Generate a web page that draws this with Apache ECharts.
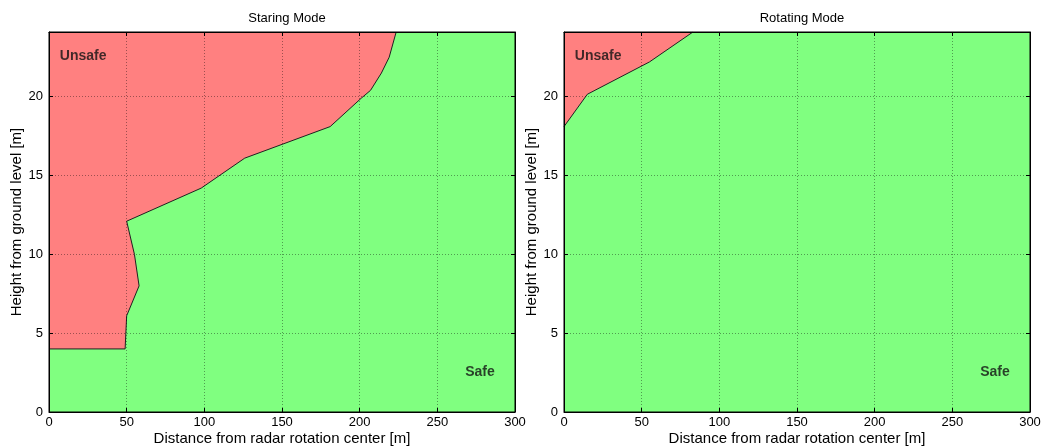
<!DOCTYPE html>
<html>
<head>
<meta charset="utf-8">
<script src="https://cdn.jsdelivr.net/npm/echarts@6/dist/echarts.min.js"></script>
<style>html,body{margin:0;padding:0;background:#fff}#c{width:1041px;height:446px}</style>
</head>
<body>
<div id="c"></div>
<script>
// ---- data ----
const titles = ['Staring Mode', 'Rotating Mode'];
const xAxisName = 'Distance from radar rotation center [m]';
const yAxisName = 'Height from ground level [m]';
const xMin = 0, xMax = 300, xStep = 50;
const yMin = 0, yMax = 24.1, yStep = 5;
// boundary between unsafe (upper-left) and safe regions
const staringX = [0, 49, 50, 58, 55, 50, 98, 126, 181, 201, 207, 214, 219, 223.5];
const staringY = [4, 4, 6.1, 8, 10, 12.1, 14.2, 16.1, 18.1, 19.9, 20.4, 21.5, 22.5, 24.1];
const rotatingX = [0, 15, 55, 83];
const rotatingY = [18.1, 20.15, 22.2, 24.1];
const regionNames = ['Unsafe', 'Safe'];
const unsafeLabelAt = [7, 22.6];
const safeLabelAt = [287, 2.5];

// ---- chart ----
const RED = '#FF8080', GREEN = '#80FF80';
const FONT = 'Liberation Sans, Arial, sans-serif';
const chart = echarts.init(document.getElementById('c'), null, {renderer: 'canvas'});

const grids = [
  {left: 49, top: 32, width: 466, height: 380},
  {left: 564, top: 32, width: 466, height: 380}
];
const boundaries = [
  staringX.map((x, i) => [x, staringY[i]]),
  rotatingX.map((x, i) => [x, rotatingY[i]])
];

const xAxes = [], yAxes = [], series = [], titleOpts = [];
grids.forEach((g, gi) => {
  const gridLine = {show: true, lineStyle: {color: 'rgba(0,0,0,0.38)', type: [1, 2], width: 1}};
  xAxes.push({
    gridIndex: gi, type: 'value', min: xMin, max: xMax, interval: xStep, position: 'bottom', z: 5,
    name: xAxisName, nameLocation: 'middle', nameGap: 19, nameMoveOverlap: false,
    nameTextStyle: {fontFamily: FONT, fontSize: 15, color: '#000'},
    axisLine: {show: true, onZero: false, lineStyle: {color: '#000', width: 1}},
    axisTick: {show: true, inside: true, length: 4, lineStyle: {color: '#000'}},
    axisLabel: {fontFamily: FONT, fontSize: 13, color: '#000', margin: 4},
    splitLine: gridLine
  });
  xAxes.push({
    gridIndex: gi, type: 'value', min: xMin, max: xMax, interval: xStep, position: 'top', z: 5,
    axisLine: {show: true, onZero: false, lineStyle: {color: '#000', width: 1}},
    axisTick: {show: true, inside: true, length: 4, lineStyle: {color: '#000'}},
    axisLabel: {show: false}, splitLine: {show: false}
  });
  yAxes.push({
    gridIndex: gi, type: 'value', min: yMin, max: yMax, interval: yStep, position: 'left', z: 5,
    name: yAxisName, nameLocation: 'middle', nameGap: 25, nameRotate: 90, nameMoveOverlap: false,
    nameTextStyle: {fontFamily: FONT, fontSize: 15, color: '#000'},
    axisLine: {show: true, onZero: false, lineStyle: {color: '#000', width: 1}},
    axisTick: {show: true, inside: true, length: 4, lineStyle: {color: '#000'}},
    axisLabel: {fontFamily: FONT, fontSize: 13, color: '#000', margin: 6, showMaxLabel: false},
    splitLine: gridLine
  });
  yAxes.push({
    gridIndex: gi, type: 'value', min: yMin, max: yMax, interval: yStep, position: 'right', z: 5,
    axisLine: {show: true, onZero: false, lineStyle: {color: '#000', width: 1}},
    axisTick: {show: true, inside: true, length: 4, lineStyle: {color: '#000'}},
    axisLabel: {show: false}, splitLine: {show: false}
  });
  const xi = gi * 2, yi = gi * 2;
  const bnd = boundaries[gi];
  // unsafe polygon: boundary closed through top-left corner
  series.push({
    type: 'custom', xAxisIndex: xi, yAxisIndex: yi, z: 1, silent: true,
    data: [[0]],
    renderItem: function (params, api) {
      const pts = bnd.concat([[xMin, yMax]]).map(p => api.coord(p));
      return {type: 'polygon', shape: {points: pts}, style: {fill: RED, stroke: null}};
    }
  });
  // boundary line
  series.push({
    type: 'line', xAxisIndex: xi, yAxisIndex: yi, z: 2, silent: true,
    data: bnd, showSymbol: false, symbol: 'none',
    lineStyle: {color: '#202020', width: 1}
  });
  // region labels
  series.push({
    type: 'scatter', xAxisIndex: xi, yAxisIndex: yi, z: 6, silent: true, symbolSize: 0,
    data: [
      {name: regionNames[0], value: unsafeLabelAt, label: {position: 'right', distance: 0}},
      {name: regionNames[1], value: safeLabelAt, label: {position: 'left', distance: 0}}
    ],
    label: {show: true, formatter: '{b}', fontFamily: FONT, fontSize: 14, fontWeight: 'bold', color: '#111'}
  });
  titleOpts.push({
    text: titles[gi], left: g.left + g.width / 2, top: 7, textAlign: 'center',
    textStyle: {fontFamily: FONT, fontSize: 13, fontWeight: 'normal', color: '#000'}
  });
});

chart.setOption({
  animation: false,
  backgroundColor: '#fff',
  title: titleOpts,
  grid: grids.map(g => Object.assign({show: true, backgroundColor: GREEN, borderColor: '#000', borderWidth: 1, containLabel: false, outerBoundsMode: 'none'}, g)),
  xAxis: xAxes,
  yAxis: yAxes,
  series: series
});
</script>
</body>
</html>
